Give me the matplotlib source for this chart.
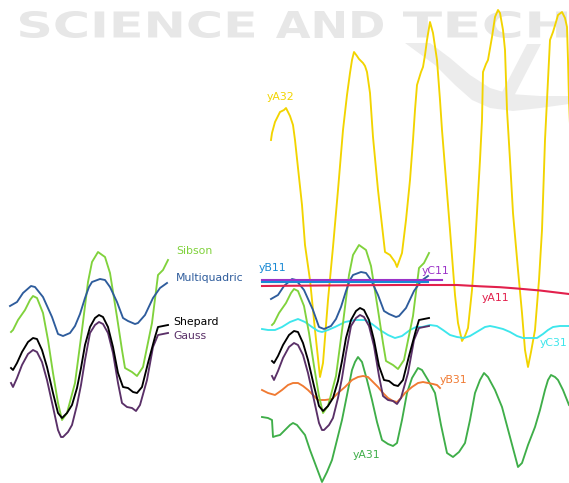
import matplotlib
matplotlib.use("Agg")
import matplotlib.pyplot as plt
from matplotlib.textpath import TextPath
from matplotlib.patches import PathPatch, Polygon
from matplotlib.font_manager import FontProperties
from matplotlib.transforms import Affine2D

# ---------------- data (pixel-like units) -------------
sibson_x = [11, 13, 18, 25, 30, 33, 37, 43, 48, 53, 58, 62, 67, 75, 82, 88, 92, 98, 105, 110,
            117, 122, 125, 132, 137, 143, 152, 158, 163, 168]
sibson_y = [332, 330, 320, 310, 300, 296, 298, 313, 340, 373, 403, 420, 413, 383, 330, 282, 262, 252, 257, 273,
            317, 350, 368, 372, 376, 367, 323, 275, 270, 260]

multi_x = [10, 17, 23, 31, 35, 43, 52, 58, 63, 70, 75, 80, 85, 89, 92, 100, 105, 110, 117, 123, 128,
           135, 138, 145, 153, 160, 167]
multi_y = [306, 302, 293, 286, 287, 297, 317, 334, 336, 333, 326, 314, 298, 287, 282, 279, 280, 287, 302, 318, 321,
           324, 323, 315, 298, 288, 283]

shepard_x = [11, 13, 17, 22, 28, 33, 37, 42, 47, 53, 58, 62, 67, 72, 77, 81, 85, 90, 95, 99, 103, 108,
             113, 118, 123, 128, 133, 137, 142, 148, 155, 158, 163, 168]
shepard_y = [368, 370, 363, 352, 342, 338, 339, 350, 367, 393, 413, 418, 413, 405, 388, 368, 345, 327, 318, 315, 317, 327,
             347, 373, 387, 388, 392, 393, 387, 363, 337, 327, 326, 325]

gauss_x = [11, 13, 17, 22, 28, 33, 37, 42, 47, 53, 58, 61, 63, 68, 72, 77, 81, 85, 90, 95, 99, 103, 108,
           113, 118, 122, 127, 132, 136, 140, 147, 153, 158, 163, 168]
gauss_y = [383, 387, 378, 365, 354, 350, 352, 362, 380, 407, 430, 437, 437, 432, 425, 405, 385, 360, 333, 325, 322, 324, 333,
           353, 383, 403, 407, 408, 411, 405, 380, 347, 335, 334, 333]

ya32_x = [271, 272, 275, 280, 284, 286, 288, 290, 293, 295, 298, 302, 305, 310, 315, 320, 323, 328, 333, 338,
          343, 347, 350, 352, 354, 357, 359, 363, 365, 367, 370, 373, 378, 385, 390, 395, 397, 402, 406, 410,
          413, 415, 417, 421, 423, 425, 427, 430, 433, 437, 440, 442, 446, 450, 455, 458, 462, 465, 468, 472,
          475, 480, 482, 483, 486, 488, 492, 495, 498, 500, 503, 505, 507, 510, 513, 518, 522, 525, 528, 531,
          535, 539, 542, 545, 548, 550, 553, 556, 558, 562, 565, 567, 568, 569, 571]
ya32_y = [140, 133, 122, 112, 110, 108, 112, 116, 125, 140, 168, 205, 245, 280, 330, 377, 363, 300, 247, 190,
          130, 95, 73, 60, 52, 56, 59, 63, 66, 72, 93, 137, 190, 252, 255, 262, 267, 253, 220, 180,
          140, 110, 85, 72, 67, 55, 40, 22, 33, 60, 100, 130, 180, 230, 295, 323, 341, 336, 328, 290,
          247, 160, 120, 72, 64, 60, 37, 17, 10, 13, 30, 50, 110, 160, 213, 270, 313, 350, 367, 352,
          330, 280, 230, 140, 80, 40, 32, 22, 15, 12, 18, 27, 60, 100, 150]

ya31_x = [262, 268, 272, 273, 276, 280, 285, 290, 293, 297, 301, 305, 310, 316, 322, 327, 332, 337, 342, 347,
          352, 355, 358, 362, 367, 372, 377, 382, 388, 393, 397, 402, 407, 412, 418, 422, 428, 435, 441, 447,
          453, 459, 465, 470, 475, 480, 484, 488, 495, 502, 510, 518, 522, 528, 535, 540, 545, 548, 551, 555,
          558, 563, 569]
ya31_y = [417, 418, 420, 437, 436, 435, 430, 425, 423, 425, 430, 435, 450, 466, 482, 472, 460, 440, 420, 395,
          370, 362, 357, 362, 380, 400, 422, 440, 444, 446, 443, 420, 393, 378, 368, 370, 380, 393, 425, 453,
          457, 452, 443, 420, 393, 380, 373, 377, 390, 407, 437, 467, 463, 445, 427, 410, 390, 380, 375, 377,
          380, 390, 405]

yb31_x = [262, 268, 275, 282, 288, 293, 298, 303, 308, 313, 318, 325, 332, 338, 345, 352, 358, 363, 368, 373,
          378, 383, 388, 393, 397, 401, 405, 412, 418, 423, 428, 433, 437, 440]
yb31_y = [390, 393, 395, 390, 385, 383, 383, 386, 390, 395, 400, 400, 399, 393, 387, 380, 377, 376, 377, 382,
          387, 393, 398, 401, 402, 398, 393, 387, 383, 382, 383, 384, 385, 388]

yc31_x = [262, 268, 275, 282, 290, 298, 305, 312, 318, 322, 328, 335, 345, 355, 365, 372, 380, 388, 395, 402,
          410, 416, 422, 430, 437, 443, 450, 457, 464, 470, 475, 480, 485, 490, 495, 503, 510, 517, 523, 530,
          537, 543, 548, 553, 560, 569]
yc31_y = [329, 330, 330, 327, 322, 319, 322, 327, 331, 332, 330, 327, 322, 320, 320, 324, 330, 335, 338, 336,
          330, 327, 327, 325, 326, 330, 335, 337, 338, 336, 333, 330, 327, 326, 327, 329, 332, 336, 338, 338,
          338, 334, 330, 327, 326, 326]

ya11_x = [262, 320, 400, 457, 480, 500, 517, 540, 569]
ya11_y = [286, 285.5, 285, 285, 286.3, 287.2, 288.5, 290.5, 294]

yb11_x = [262, 428]
yb11_y = [281.5, 281.5]

yc11_x = [262, 442]
yc11_y = [280, 280]

# labels: (text, x, y, colour)
left_labels = [("Sibson", 176, 251, "#80d23c"),
               ("Multiquadric", 176, 278, "#2e5c9c"),
               ("Shepard", 173, 322, "#000000"),
               ("Gauss", 173, 336, "#5a3068")]
right_labels = [("yA32", 267, 97, "#f2d400"),
                ("yB11", 259, 268, "#1a8ad4"),
                ("yC11", 422, 271, "#9b32c8"),
                ("yA11", 482, 298, "#e2204c"),
                ("yC31", 540, 343, "#3de6ec"),
                ("yB31", 440, 380, "#f07a32"),
                ("yA31", 353, 455, "#3fae49")]

watermark_words = [("SCIENCE", 20, 254), ("AND", 276, 383), ("TECH", 403, 567)]

# ---------------- figure --------------------------------------------------------
W, H = 569, 483
fig = plt.figure(figsize=(W / 100, H / 100), dpi=100)
ax = fig.add_axes([0, 0, 1, 1])
ax.set_xlim(0, W)
ax.set_ylim(H, 0)
ax.axis("off")

# watermark text
fp = FontProperties(family="DejaVu Sans", weight="bold")
for word, x0, x1 in watermark_words:
    tp = TextPath((0, 0), word, size=1, prop=fp)
    ext = tp.get_extents()
    sx = (x1 - x0) / ext.width
    sy = (38 - 11) / ext.height
    tr = Affine2D().translate(-ext.x0, -ext.y0).scale(sx, -sy).translate(x0, 38)
    ax.add_patch(PathPatch(tr.transform_path(tp), facecolor="#e7e7e7", edgecolor="none", zorder=0))

# watermark logo (swoosh + arm)
wm = "#ececec"
ax.add_patch(Polygon([(405, 43), (430, 43), (450, 58), (470, 75), (490, 88), (510, 94), (540, 96),
                      (569, 96), (569, 104), (540, 108), (513, 111), (490, 108), (472, 100),
                      (455, 85), (435, 65)], closed=True, facecolor=wm, edgecolor="none", zorder=0))
ax.add_patch(Polygon([(527, 44), (541, 44), (513, 98), (500, 96)], closed=True,
                     facecolor=wm, edgecolor="none", zorder=0))

lw = 1.35
left_series = [(sibson_x, sibson_y, "#80d23c"), (multi_x, multi_y, "#2e5c9c"),
               (gauss_x, gauss_y, "#5a3068"), (shepard_x, shepard_y, "#000000")]

# right panel other series
ax.plot(ya32_x, ya32_y, color="#f2d400", lw=lw, zorder=2)
ax.plot(ya31_x, ya31_y, color="#3fae49", lw=lw, zorder=2)
ax.plot(yb31_x, yb31_y, color="#f07a32", lw=lw, zorder=2)
ax.plot(yc31_x, yc31_y, color="#3de6ec", lw=lw, zorder=2)

# left panel and its copy on the right
for xs, ys, c in left_series:
    ax.plot(xs, ys, color=c, lw=lw, zorder=3)
    ax.plot([x + 261 for x in xs], [y - 7 for y in ys], color=c, lw=lw, zorder=3)

ax.plot(ya11_x, ya11_y, color="#e2204c", lw=1.5, zorder=4)
ax.plot(yc11_x, yc11_y, color="#9b32c8", lw=1.5, zorder=4)
ax.plot(yb11_x, yb11_y, color="#1a8ad4", lw=1.5, zorder=4)

for s, x, y, c in left_labels + right_labels:
    ax.text(x, y, s, color=c, fontsize=7.8, ha="left", va="center", zorder=5,
            family="DejaVu Sans")

fig.savefig("out.png", dpi=100)
